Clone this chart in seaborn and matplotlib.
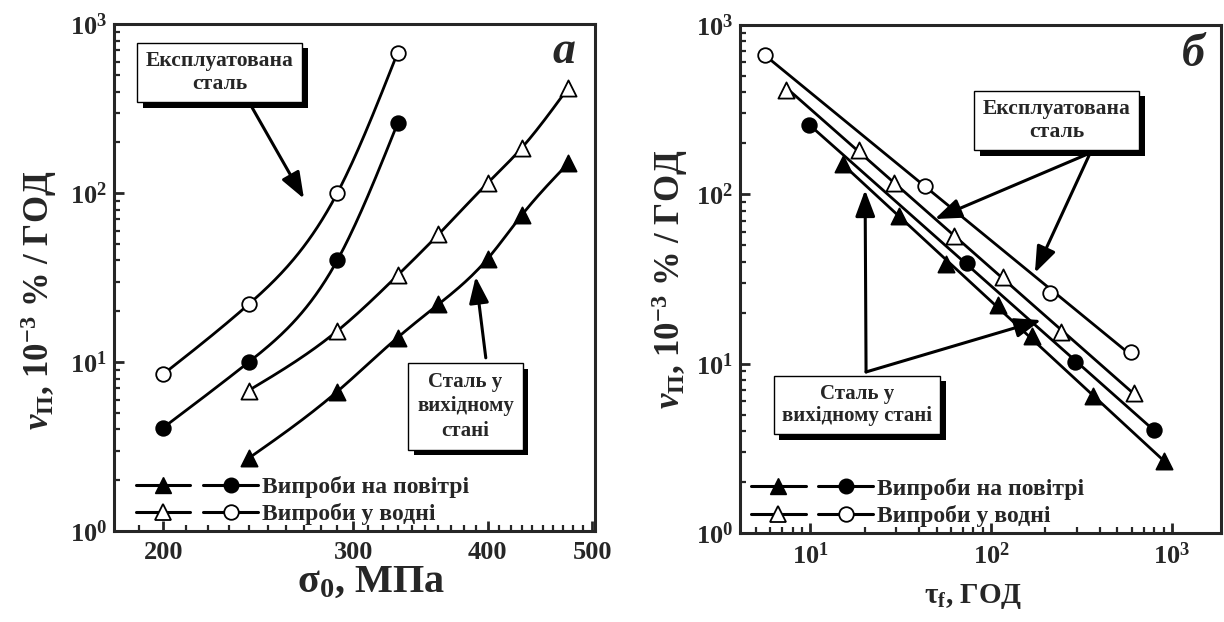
import numpy as np
import matplotlib
matplotlib.use("Agg")
import matplotlib.pyplot as plt
import seaborn as sns
from matplotlib.lines import Line2D
from matplotlib.legend_handler import HandlerTuple
from matplotlib.ticker import FixedLocator, LogLocator, NullFormatter, FuncFormatter
import matplotlib.patheffects as pe

# ---- Panel а: creep rate vs. initial stress ----
stress_air_new = [240, 290, 330, 360, 400, 430, 475]
rate_air_new = [2.7, 6.7, 14, 22, 41, 74, 150]
stress_water_new = [240, 290, 330, 360, 400, 430, 475]
rate_water_new = [6.8, 15.3, 32.7, 57, 115, 185, 420]
stress_air_used = [200, 240, 290, 330]
rate_air_used = [4.1, 10, 40, 260]
stress_water_used = [200, 240, 290, 330]
rate_water_used = [8.5, 22, 100, 680]

# ---- Panel б: creep rate vs. time to failure ----
time_air_new = [15.2, 30.9, 56.5, 109, 169, 366, 900]
vrate_air_new = [151, 74, 39, 22.3, 14.5, 6.4, 2.65]
time_water_new = [7.4, 18.6, 29.2, 62.7, 116, 245, 615]
vrate_water_new = [415, 183, 117, 57, 32.5, 15.3, 6.7]
time_air_used = [9.9, 74, 292, 795]
vrate_air_used = [255, 39.3, 10.2, 4.07]
time_water_used = [5.65, 43, 211, 597]
vrate_water_used = [667, 112, 26.2, 11.7]

stress_ticks = [200, 300, 400, 500]
legend_labels = ["Випроби на повітрі", "Випроби у водні"]
label_used = "Експлуатована\nсталь"
label_new_a = "Сталь у\nвихідному\nстані"
label_new_b = "Сталь у\nвихідному стані"

sns.set_style("ticks")
plt.rcParams.update({
    "font.family": ["Liberation Serif", "DejaVu Serif"],
    "font.weight": "bold",
    "mathtext.fontset": "custom",
    "mathtext.rm": "Liberation Serif:bold",
    "mathtext.it": "Liberation Serif:italic:bold",
    "mathtext.bf": "Liberation Serif:bold",
    "mathtext.default": "rm",
    "axes.linewidth": 2.2,
})


def smooth_curve(xs, ys, n=150):
    """Natural cubic spline through the points in log-log space."""
    lx, ly = np.log10(xs), np.log10(ys)
    k = len(lx)
    h = np.diff(lx)
    A = np.zeros((k, k))
    r = np.zeros(k)
    A[0, 0] = A[-1, -1] = 1.0
    for i in range(1, k - 1):
        A[i, i - 1] = h[i - 1]
        A[i, i] = 2 * (h[i - 1] + h[i])
        A[i, i + 1] = h[i]
        r[i] = 6 * ((ly[i + 1] - ly[i]) / h[i] - (ly[i] - ly[i - 1]) / h[i - 1])
    M = np.linalg.solve(A, r)
    t = np.linspace(lx[0], lx[-1], n)
    idx = np.clip(np.searchsorted(lx, t) - 1, 0, k - 2)
    x0, x1 = lx[idx], lx[idx + 1]
    hh = x1 - x0
    a = (x1 - t) / hh
    b = (t - x0) / hh
    s = a * ly[idx] + b * ly[idx + 1] + ((a ** 3 - a) * M[idx] + (b ** 3 - b) * M[idx + 1]) * hh ** 2 / 6
    return 10 ** t, 10 ** s


def power_fit(xs, ys, n=2):
    """Least-squares straight line in log-log space over the data range."""
    lx, ly = np.log10(xs), np.log10(ys)
    p = np.polyfit(lx, ly, 1)
    t = np.linspace(lx.min(), lx.max(), n)
    return 10 ** t, 10 ** np.polyval(p, t)


def draw_series(ax, xs, ys, marker, filled, line_func):
    lx, ly = line_func(xs, ys)
    sns.lineplot(x=lx, y=ly, ax=ax, color="black", lw=2.0, sort=False,
                 estimator=None, zorder=2)
    size = 135 if marker == "^" else 110
    sns.scatterplot(x=xs, y=ys, ax=ax, marker=marker, s=size,
                    color="black" if filled else "white",
                    edgecolor="black", linewidth=1.3, zorder=3)


def note_box(ax, x, y, text, fs=15, spacing=1.15, pad=0.4):
    t = ax.text(x, y, text, transform=ax.transAxes, ha="center", va="center",
                fontsize=fs, fontweight="bold", linespacing=spacing, zorder=6,
                bbox=dict(boxstyle="square,pad=%.2f" % pad, fc="white", ec="black", lw=1.0))
    t.get_bbox_patch().set_path_effects([
        pe.SimplePatchShadow(offset=(4, -4), shadow_rgbFace="black", alpha=1.0),
        pe.Normal()])
    return t


def arrow(ax, start, end):
    ax.annotate("", xy=end, xytext=start, xycoords="axes fraction",
                textcoords="axes fraction", zorder=5,
                arrowprops=dict(arrowstyle="-|>,head_length=0.8,head_width=0.3",
                                mutation_scale=20, lw=2.2, color="black",
                                shrinkA=0, shrinkB=0))


def style_axes(ax):
    for sp in ax.spines.values():
        sp.set_linewidth(2.2)
        sp.set_visible(True)
    ax.tick_params(which="both", direction="in", top=False, right=False,
                   labelsize=19, pad=7)
    ax.tick_params(which="major", length=7, width=2)
    ax.tick_params(which="minor", length=4, width=1.6)
    ax.set_ylim(1, 1000)
    ax.yaxis.set_major_locator(FixedLocator([1, 10, 100, 1000]))
    ax.yaxis.set_minor_locator(LogLocator(base=10, subs=np.arange(2, 10)))
    ax.yaxis.set_minor_formatter(NullFormatter())
    ax.yaxis.set_major_formatter(FuncFormatter(lambda v, p: r"$10^{%d}$" % round(np.log10(v))))
    ax.tick_params(axis="y", pad=5)
    ax.set_ylabel(r"$\mathit{\nu}_{П}$, 10$^{-3}$ % / ГОД", fontsize=25,
                  fontweight="bold", labelpad=4)


def add_legend(ax, x0, y0):
    h_air = (Line2D([], [], color="k", lw=2.2, marker="^", ms=12, mfc="k", mec="k"),
             Line2D([], [], color="k", lw=2.2, marker="o", ms=10.5, mfc="k", mec="k"))
    h_wat = (Line2D([], [], color="k", lw=2.2, marker="^", ms=12, mfc="w", mec="k", mew=1.3),
             Line2D([], [], color="k", lw=2.2, marker="o", ms=10.5, mfc="w", mec="k", mew=1.3))
    ax.legend([h_air, h_wat], legend_labels, handler_map={tuple: HandlerTuple(ndivide=None, pad=0.55)},
              loc="lower left", bbox_to_anchor=(x0, y0), frameon=False,
              handlelength=5.2, handletextpad=0.15, labelspacing=0.22, borderpad=0,
              borderaxespad=0, prop={"weight": "bold", "size": 17})


fig = plt.figure(figsize=(12.24, 6.22), dpi=100)
ax_a = fig.add_axes([0.0931, 0.146, 0.393, 0.815])
ax_b = fig.add_axes([0.6046, 0.143, 0.393, 0.817])

# ---- panel а ----
ax_a.set_xscale("log")
ax_a.set_yscale("log")
draw_series(ax_a, stress_water_used, rate_water_used, "o", False, smooth_curve)
draw_series(ax_a, stress_air_used, rate_air_used, "o", True, smooth_curve)
draw_series(ax_a, stress_water_new, rate_water_new, "^", False, smooth_curve)
draw_series(ax_a, stress_air_new, rate_air_new, "^", True, smooth_curve)
ax_a.set_xlim(180, 503)
style_axes(ax_a)
ax_a.yaxis.set_label_coords(-0.115, 0.455)
ax_a.xaxis.set_major_locator(FixedLocator(stress_ticks))
ax_a.xaxis.set_major_formatter(FuncFormatter(lambda v, p: "%d" % v))
ax_a.xaxis.set_minor_locator(FixedLocator([v for v in range(190, 510, 10) if v not in stress_ticks]))
ax_a.xaxis.set_minor_formatter(NullFormatter())
ax_a.set_xlabel(r"$\sigma_{0}$, МПа", fontsize=29, fontweight="bold", labelpad=0, x=0.535)
ax_a.text(0.935, 0.945, "а", transform=ax_a.transAxes, fontsize=33, fontstyle="italic",
          fontweight="bold", ha="center", va="center")
note_box(ax_a, 0.220, 0.905, label_used, fs=15.5)
arrow(ax_a, (0.281, 0.846), (0.395, 0.656))
note_box(ax_a, 0.731, 0.246, label_new_a, spacing=1.3, pad=0.42)
arrow(ax_a, (0.773, 0.342), (0.752, 0.502))
add_legend(ax_a, 0.045, 0.012)

# ---- panel б ----
ax_b.set_xscale("log")
ax_b.set_yscale("log")
draw_series(ax_b, time_water_used, vrate_water_used, "o", False, power_fit)
draw_series(ax_b, time_air_used, vrate_air_used, "o", True, power_fit)
draw_series(ax_b, time_water_new, vrate_water_new, "^", False, power_fit)
draw_series(ax_b, time_air_new, vrate_air_new, "^", True, power_fit)
ax_b.set_xlim(4.1, 1870)
style_axes(ax_b)
ax_b.xaxis.set_major_locator(FixedLocator([10, 100, 1000]))
ax_b.xaxis.set_major_formatter(FuncFormatter(lambda v, p: r"$10^{%d}$" % round(np.log10(v))))
ax_b.xaxis.set_minor_locator(LogLocator(base=10, subs=np.arange(2, 10)))
ax_b.xaxis.set_minor_formatter(NullFormatter())
ax_b.set_xlabel(r"$\tau_{f}$, ГОД", fontsize=21, fontweight="bold", labelpad=9, x=0.485)
ax_b.text(0.942, 0.940, "б", transform=ax_b.transAxes, fontsize=33, fontstyle="italic",
          fontweight="bold", ha="center", va="center")
note_box(ax_b, 0.658, 0.812, label_used, fs=15.5)
arrow(ax_b, (0.728, 0.748), (0.405, 0.618))
arrow(ax_b, (0.728, 0.748), (0.613, 0.512))
note_box(ax_b, 0.243, 0.252, label_new_b)
arrow(ax_b, (0.262, 0.317), (0.260, 0.675))
arrow(ax_b, (0.262, 0.317), (0.626, 0.419))
add_legend(ax_b, 0.022, 0.012)

fig.savefig("out.png", dpi=100)
